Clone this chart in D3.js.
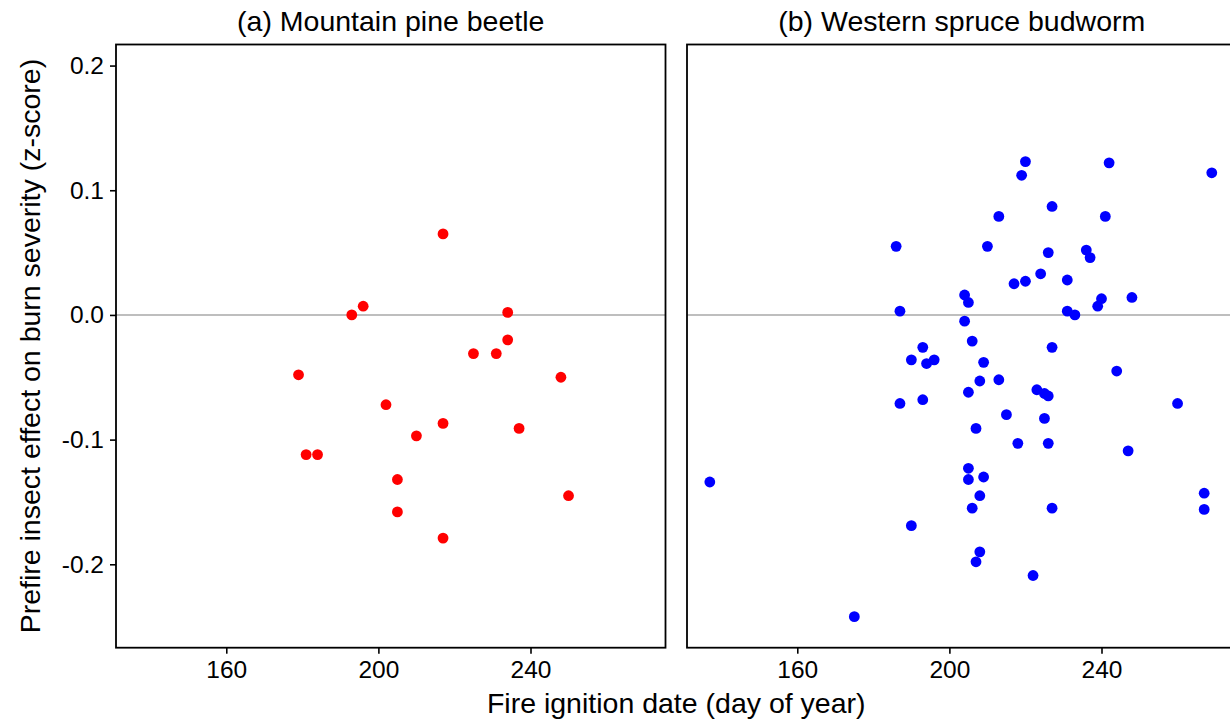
<!DOCTYPE html>
<html>
<head>
<meta charset="utf-8">
<script src="https://cdn.jsdelivr.net/npm/d3@7"></script>
<style>
  html, body { margin: 0; padding: 0; background: #ffffff; }
  svg { display: block; }
  text { font-family: "Liberation Sans", Arial, sans-serif; fill: #000; }
</style>
</head>
<body>
<svg id="chart" width="1230" height="723"></svg>
<script>
// Panel titles
const panelTitles = ["(a) Mountain pine beetle", "(b) Western spruce budworm"];

// (a) Mountain pine beetle: ignition day and insect effect (z-score)
const mpbDay = [179, 181, 184, 193, 196, 202, 205, 205, 210, 217, 217, 217, 225, 231, 234, 234, 237, 248, 250];
const mpbEffect = [-0.048, -0.112, -0.112, 0.000, 0.007, -0.072, -0.132, -0.158, -0.097, 0.065, -0.087, -0.179,
                   -0.031, -0.031, 0.002, -0.020, -0.091, -0.050, -0.145];

// (b) Western spruce budworm
const wsbDay = [137, 175, 186, 187, 187, 190, 190, 193, 193, 194, 196, 204, 205, 204, 206, 205, 205, 205, 206, 207,
                207, 208, 208, 208, 209, 209, 210, 213, 213, 215, 217, 218, 219, 220, 220, 222, 223, 224, 225, 225,
                226, 226, 226, 227, 227, 227, 231, 231, 233, 236, 237, 239, 240, 241, 242, 244, 247, 248, 260, 267,
                267, 269];
const wsbEffect = [-0.134, -0.242, 0.055, 0.003, -0.071, -0.036, -0.169, -0.026, -0.068, -0.039, -0.036, 0.016,
                   0.010, -0.005, -0.021, -0.062, -0.123, -0.132, -0.155, -0.091, -0.198, -0.053, -0.145, -0.190,
                   -0.038, -0.130, 0.055, 0.079, -0.052, -0.080, 0.025, -0.103, 0.112, 0.123, 0.027, -0.209,
                   -0.060, 0.033, -0.063, -0.083, 0.050, -0.065, -0.103, 0.087, -0.026, -0.155, 0.028, 0.003,
                   0.000, 0.052, 0.046, 0.007, 0.013, 0.079, 0.122, -0.045, -0.109, 0.014, -0.071, -0.143,
                   -0.156, 0.114];

// Axis ticks
const xTicks = [160, 200, 240];
const yTicks = [0.2, 0.1, 0.0, -0.1, -0.2];
const yTickLabels = ["0.2", "0.1", "0.0", "-0.1", "-0.2"];

const pointColors = ["#ff0000", "#0000ff"];

const svg = d3.select("#chart");

const panelW = 549.5;
const panelTop = 44.5, panelBottom = 647.7;
const panelLefts = [116, 687];
const tickFont = 24.5, titleFont = 28.5;

const x = d3.scaleLinear().domain([131.0, 275.5]).range([0, panelW]);
const y = d3.scaleLinear().domain([-0.2669, 0.2169]).range([panelBottom, panelTop]);

const panels = [
  { title: panelTitles[0], days: mpbDay, effect: mpbEffect, color: pointColors[0] },
  { title: panelTitles[1], days: wsbDay, effect: wsbEffect, color: pointColors[1] }
];

panels.forEach((p, i) => {
  const g = svg.append("g").attr("transform", `translate(${panelLefts[i]},0)`);

  // reference line at zero
  g.append("line")
    .attr("x1", 0).attr("x2", panelW)
    .attr("y1", y(0)).attr("y2", y(0))
    .attr("stroke", "#bebebe").attr("stroke-width", 2);

  // points
  g.selectAll("circle")
    .data(p.days.map((d, k) => [d, p.effect[k]]))
    .join("circle")
    .attr("cx", d => x(d[0]))
    .attr("cy", d => y(d[1]))
    .attr("r", 5.4)
    .attr("fill", p.color);

  // panel border
  g.append("rect")
    .attr("x", 0).attr("y", panelTop)
    .attr("width", panelW).attr("height", panelBottom - panelTop)
    .attr("fill", "none").attr("stroke", "#000").attr("stroke-width", 1.8);

  // x axis
  const xAxis = d3.axisBottom(x).tickValues(xTicks).tickSize(6).tickFormat(d3.format("d"));
  const gx = g.append("g").attr("transform", `translate(0,${panelBottom})`).call(xAxis);
  gx.select(".domain").remove();
  gx.selectAll(".tick line").attr("stroke", "#000").attr("stroke-width", 1.6);
  gx.selectAll(".tick text")
    .attr("y", 30.5).attr("dy", 0)
    .attr("font-size", tickFont).attr("fill", "#000")
    .attr("font-family", "Liberation Sans, Arial, sans-serif");

  // strip title
  g.append("text")
    .attr("x", panelW / 2).attr("y", 31)
    .attr("text-anchor", "middle")
    .attr("font-size", titleFont)
    .text(p.title);

  // y axis on the first panel only
  if (i === 0) {
    const yAxis = d3.axisLeft(y).tickValues(yTicks).tickSize(6).tickPadding(6)
      .tickFormat((d, k) => yTickLabels[k]);
    const gy = g.append("g").call(yAxis);
    gy.select(".domain").remove();
    gy.selectAll(".tick line").attr("stroke", "#000").attr("stroke-width", 1.6);
    gy.selectAll(".tick text").attr("font-size", tickFont).attr("fill", "#000")
      .attr("font-family", "Liberation Sans, Arial, sans-serif");
  }
});

// axis titles
svg.append("text")
  .attr("x", (panelLefts[0] + panelLefts[1] + panelW) / 2)
  .attr("y", 713)
  .attr("text-anchor", "middle")
  .attr("font-size", titleFont)
  .text("Fire ignition date (day of year)");

svg.append("text")
  .attr("transform", `translate(40,${(panelTop + panelBottom) / 2}) rotate(-90)`)
  .attr("text-anchor", "middle")
  .attr("font-size", titleFont)
  .text("Prefire insect effect on burn severity (z-score)");
</script>
</body>
</html>
